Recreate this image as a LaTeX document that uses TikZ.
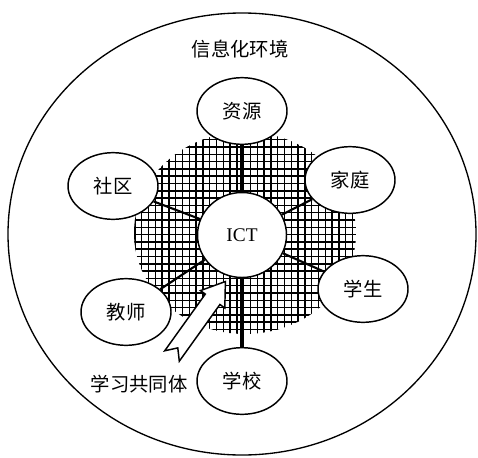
\documentclass[tikz,border=0pt]{standalone}
\usepackage{fontspec}
\setmainfont{Liberation Serif}
\newfontfamily\cjk{Noto Sans CJK SC}
\usetikzlibrary{shapes.geometric}
\begin{document}
\begin{tikzpicture}[x=0.75pt,y=-0.75pt,
  bubble/.style={ellipse,draw,line width=1.1pt,fill=white,minimum width=67.5pt,minimum height=50pt,inner sep=0pt,font=\cjk\fontsize{14.5}{16}\selectfont},
  hub/.style={ellipse,draw,line width=1.1pt,fill=white,minimum width=66.75pt,minimum height=63.75pt,inner sep=0pt,font=\fontsize{14.5}{16}\selectfont},
  spoke/.style={line width=1.6pt},
  trunk/.style={line width=2.7pt},
  gridline/.style={line width=1.15pt},
  caption/.style={font=\cjk\fontsize{14.5}{16}\selectfont},
  bigarrow/.style={draw,fill=white,line width=1.1pt,line join=miter}]
\useasboundingbox (0,0) rectangle (478,457);
% outer environment
\draw[line width=1pt] (242,234) ellipse [x radius=234, y radius=221];
\node[caption] (env) at (240,49) {信息化环境};
% hatched community area
\begin{scope}
  \clip (245,233) ellipse [x radius=111, y radius=101];
  \foreach \i in {-2,...,34} \draw[gridline] (141.7+6.8*\i,120) -- (141.7+6.8*\i,345);
  \foreach \i in {-16,...,16} \draw[gridline] (125,227.3+7.3*\i) -- (365,227.3+7.3*\i);
\end{scope}
% nodes
\node[hub] (ict) at (242,235) {ICT};
\node[bubble] (ziyuan) at (242,111) {资源};
\node[bubble] (jiating) at (350,180) {家庭};
\node[bubble] (shequ) at (113,186) {社区};
\node[bubble] (xuesheng) at (363,289) {学生};
\node[bubble] (jiaoshi) at (126,312) {教师};
\node[bubble] (xuexiao) at (242,381) {学校};
% connectors
\draw[trunk] (ict) -- (ziyuan);
\draw[trunk] (ict) -- (xuexiao);
\draw[spoke] (ict) -- (jiating);
\draw[spoke] (ict) -- (shequ);
\draw[spoke] (ict) -- (xuesheng);
\draw[spoke] (ict) -- (jiaoshi);
% big hollow arrow
\draw[bigarrow] (164.7,350.8) -- (177.8,347.9) -- (179.3,361.2) -- (219.9,304.5)
  -- (224.8,308) -- (225.4,281.5) -- (200.5,290.6) -- (205.3,294.1) -- cycle;
\node[caption] (community) at (139,384) {学习共同体};
\end{tikzpicture}
\end{document}
